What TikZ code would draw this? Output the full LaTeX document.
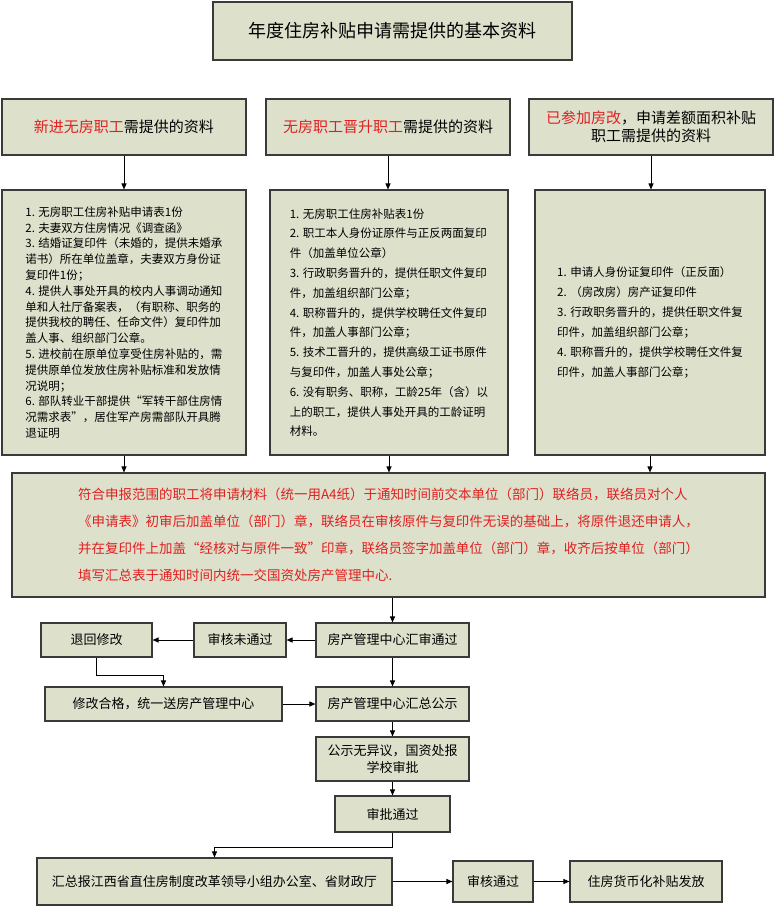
\documentclass[tikz,border=0pt]{standalone}
\usepackage{fontspec}
\setmainfont{Noto Sans CJK SC}
\usepackage{tikz}
\usetikzlibrary{positioning,arrows.meta}
\definecolor{boxfill}{HTML}{DDE1CC}
\definecolor{boxline}{HTML}{3A3A3A}
\definecolor{hired}{HTML}{E02020}
\tikzset{box/.style={rectangle,draw=boxline,fill=boxfill,line width=1.1pt,inner sep=3pt,align=center,font=\fontsize{13}{16}\selectfont},
         link/.style={-{Triangle[length=6pt,width=5pt]},line width=0.9pt,draw=black}}
\begin{document}
\begin{tikzpicture}[x=1pt,y=-1pt]
    \useasboundingbox (0,0) rectangle (775,906);
    % headings
    \node[box,minimum width=359,minimum height=58,font=\fontsize{18}{22}\selectfont] (title) at (392.5,31) {年度住房补贴申请需提供的基本资料};
    \node[box,minimum width=244,minimum height=56,font=\fontsize{15}{20}\selectfont] (newh) at (124,127) {{\color{hired}新进无房职工}需提供的资料};
    \node[box,minimum width=244,minimum height=56,font=\fontsize{15}{20}\selectfont] (uph) at (388,127) {{\color{hired}无房职工晋升职工}需提供的资料};
    \node[box,minimum width=244,minimum height=56,font=\fontsize{15}{18}\selectfont] (oldh) at (651,127) {{\color{hired}已参加房改}，申请差额面积补贴\\职工需提供的资料};
    % lists
    \node[box,minimum width=244,minimum height=265,align=left,font=\fontsize{11.5}{15.8}\selectfont] (newl) at (124,322.5) {1. 无房职工住房补贴申请表1份\\2. 夫妻双方住房情况《调查函》\\3. 结婚证复印件（未婚的，提供未婚承\\诺书）所在单位盖章，夫妻双方身份证\\复印件1份；\\4. 提供人事处开具的校内人事调动通知\\单和人社厅备案表，（有职称、职务的\\提供我校的聘任、任命文件）复印件加\\盖人事、组织部门公章。\\5. 进校前在原单位享受住房补贴的，需\\提供原单位发放住房补贴标准和发放情\\况说明；\\6. 部队转业干部提供“军转干部住房情\\况需求表”，居住军产房需部队开具腾\\退证明};
    \node[box,minimum width=238,minimum height=265,align=left,font=\fontsize{11.5}{19.8}\selectfont] (upl) at (389,322.5) {1. 无房职工住房补贴表1份\\2. 职工本人身份证原件与正反两面复印\\件（加盖单位公章）\\3. 行政职务晋升的，提供任职文件复印\\件，加盖组织部门公章；\\4. 职称晋升的，提供学校聘任文件复印\\件，加盖人事部门公章；\\5. 技术工晋升的，提供高级工证书原件\\与复印件，加盖人事处公章；\\6. 没有职务、职称，工龄25年（含）以\\上的职工，提供人事处开具的工龄证明\\材料。};
    \node[box,minimum width=230,minimum height=265,align=left,font=\fontsize{11.5}{20}\selectfont] (oldl) at (650,322.5) {1. 申请人身份证复印件（正反面）\\2. （房改房）房产证复印件\\3. 行政职务晋升的，提供任职文件复\\印件，加盖组织部门公章；\\4. 职称晋升的，提供学校聘任文件复\\印件，加盖人事部门公章；};
    % submission
    \node[box,minimum width=753,minimum height=124,align=left,text=hired,font=\fontsize{13.5}{27}\selectfont] (submit) at (388.5,535) {符合申报范围的职工将申请材料（统一用A4纸）于通知时间前交本单位（部门）联络员，联络员对个人\\《申请表》初审后加盖单位（部门）章，联络员在审核原件与复印件无误的基础上，将原件退还申请人，\\并在复印件上加盖“经核对与原件一致”印章，联络员签字加盖单位（部门）章，收齐后按单位（部门）\\填写汇总表于通知时间内统一交国资处房产管理中心.};
    % review flow
    \node[box,minimum width=153,minimum height=34] (review) at (392.5,640) {房产管理中心汇审通过};
    \node[box,minimum width=92,minimum height=34] (fail) at (240,640) {审核未通过};
    \node[box,minimum width=111,minimum height=34] (back) at (96.5,640) {退回修改};
    \node[box,minimum width=237,minimum height=34] (fixed) at (163.5,704) {修改合格，统一送房产管理中心};
    \node[box,minimum width=153,minimum height=34] (notice) at (392.5,704) {房产管理中心汇总公示};
    \node[box,minimum width=153,minimum height=44,font=\fontsize{13}{17}\selectfont] (noobj) at (392.5,759) {公示无异议，国资处报\\学校审批};
    \node[box,minimum width=115,minimum height=36] (approved) at (392.5,814) {审批通过};
    \node[box,minimum width=355,minimum height=47] (report) at (214.5,881.5) {汇总报江西省直住房制度改革领导小组办公室、省财政厅};
    \node[box,minimum width=80,minimum height=41] (passed) at (493,881.5) {审核通过};
    \node[box,minimum width=152,minimum height=41] (payout) at (646,881.5) {住房货币化补贴发放};
    % connectors
    \draw[link] (newh) -- (newl);
    \draw[link] (uph) -- (uph |- upl.north);
    \draw[link] (oldh) -- (oldh |- oldl.north);
    \draw[link] (newl) -- (newl |- submit.north);
    \draw[link] (upl) -- (upl |- submit.north);
    \draw[link] (oldl) -- (oldl |- submit.north);
    \draw[link] (submit.south -| review) -- (review);
    \draw[link] (review) -- (fail);
    \draw[link] (fail) -- (back);
    \draw[link] (back.south) -- ++(0,18) -| (fixed.north);
    \draw[link] (fixed) -- (notice);
    \draw[link] (review) -- (notice);
    \draw[link] (notice) -- (noobj);
    \draw[link] (noobj) -- (approved);
    \draw[link] (approved.south) -- ++(0,15) -| (report.north);
    \draw[link] (report) -- (passed);
    \draw[link] (passed) -- (payout);
\end{tikzpicture}
\end{document}
